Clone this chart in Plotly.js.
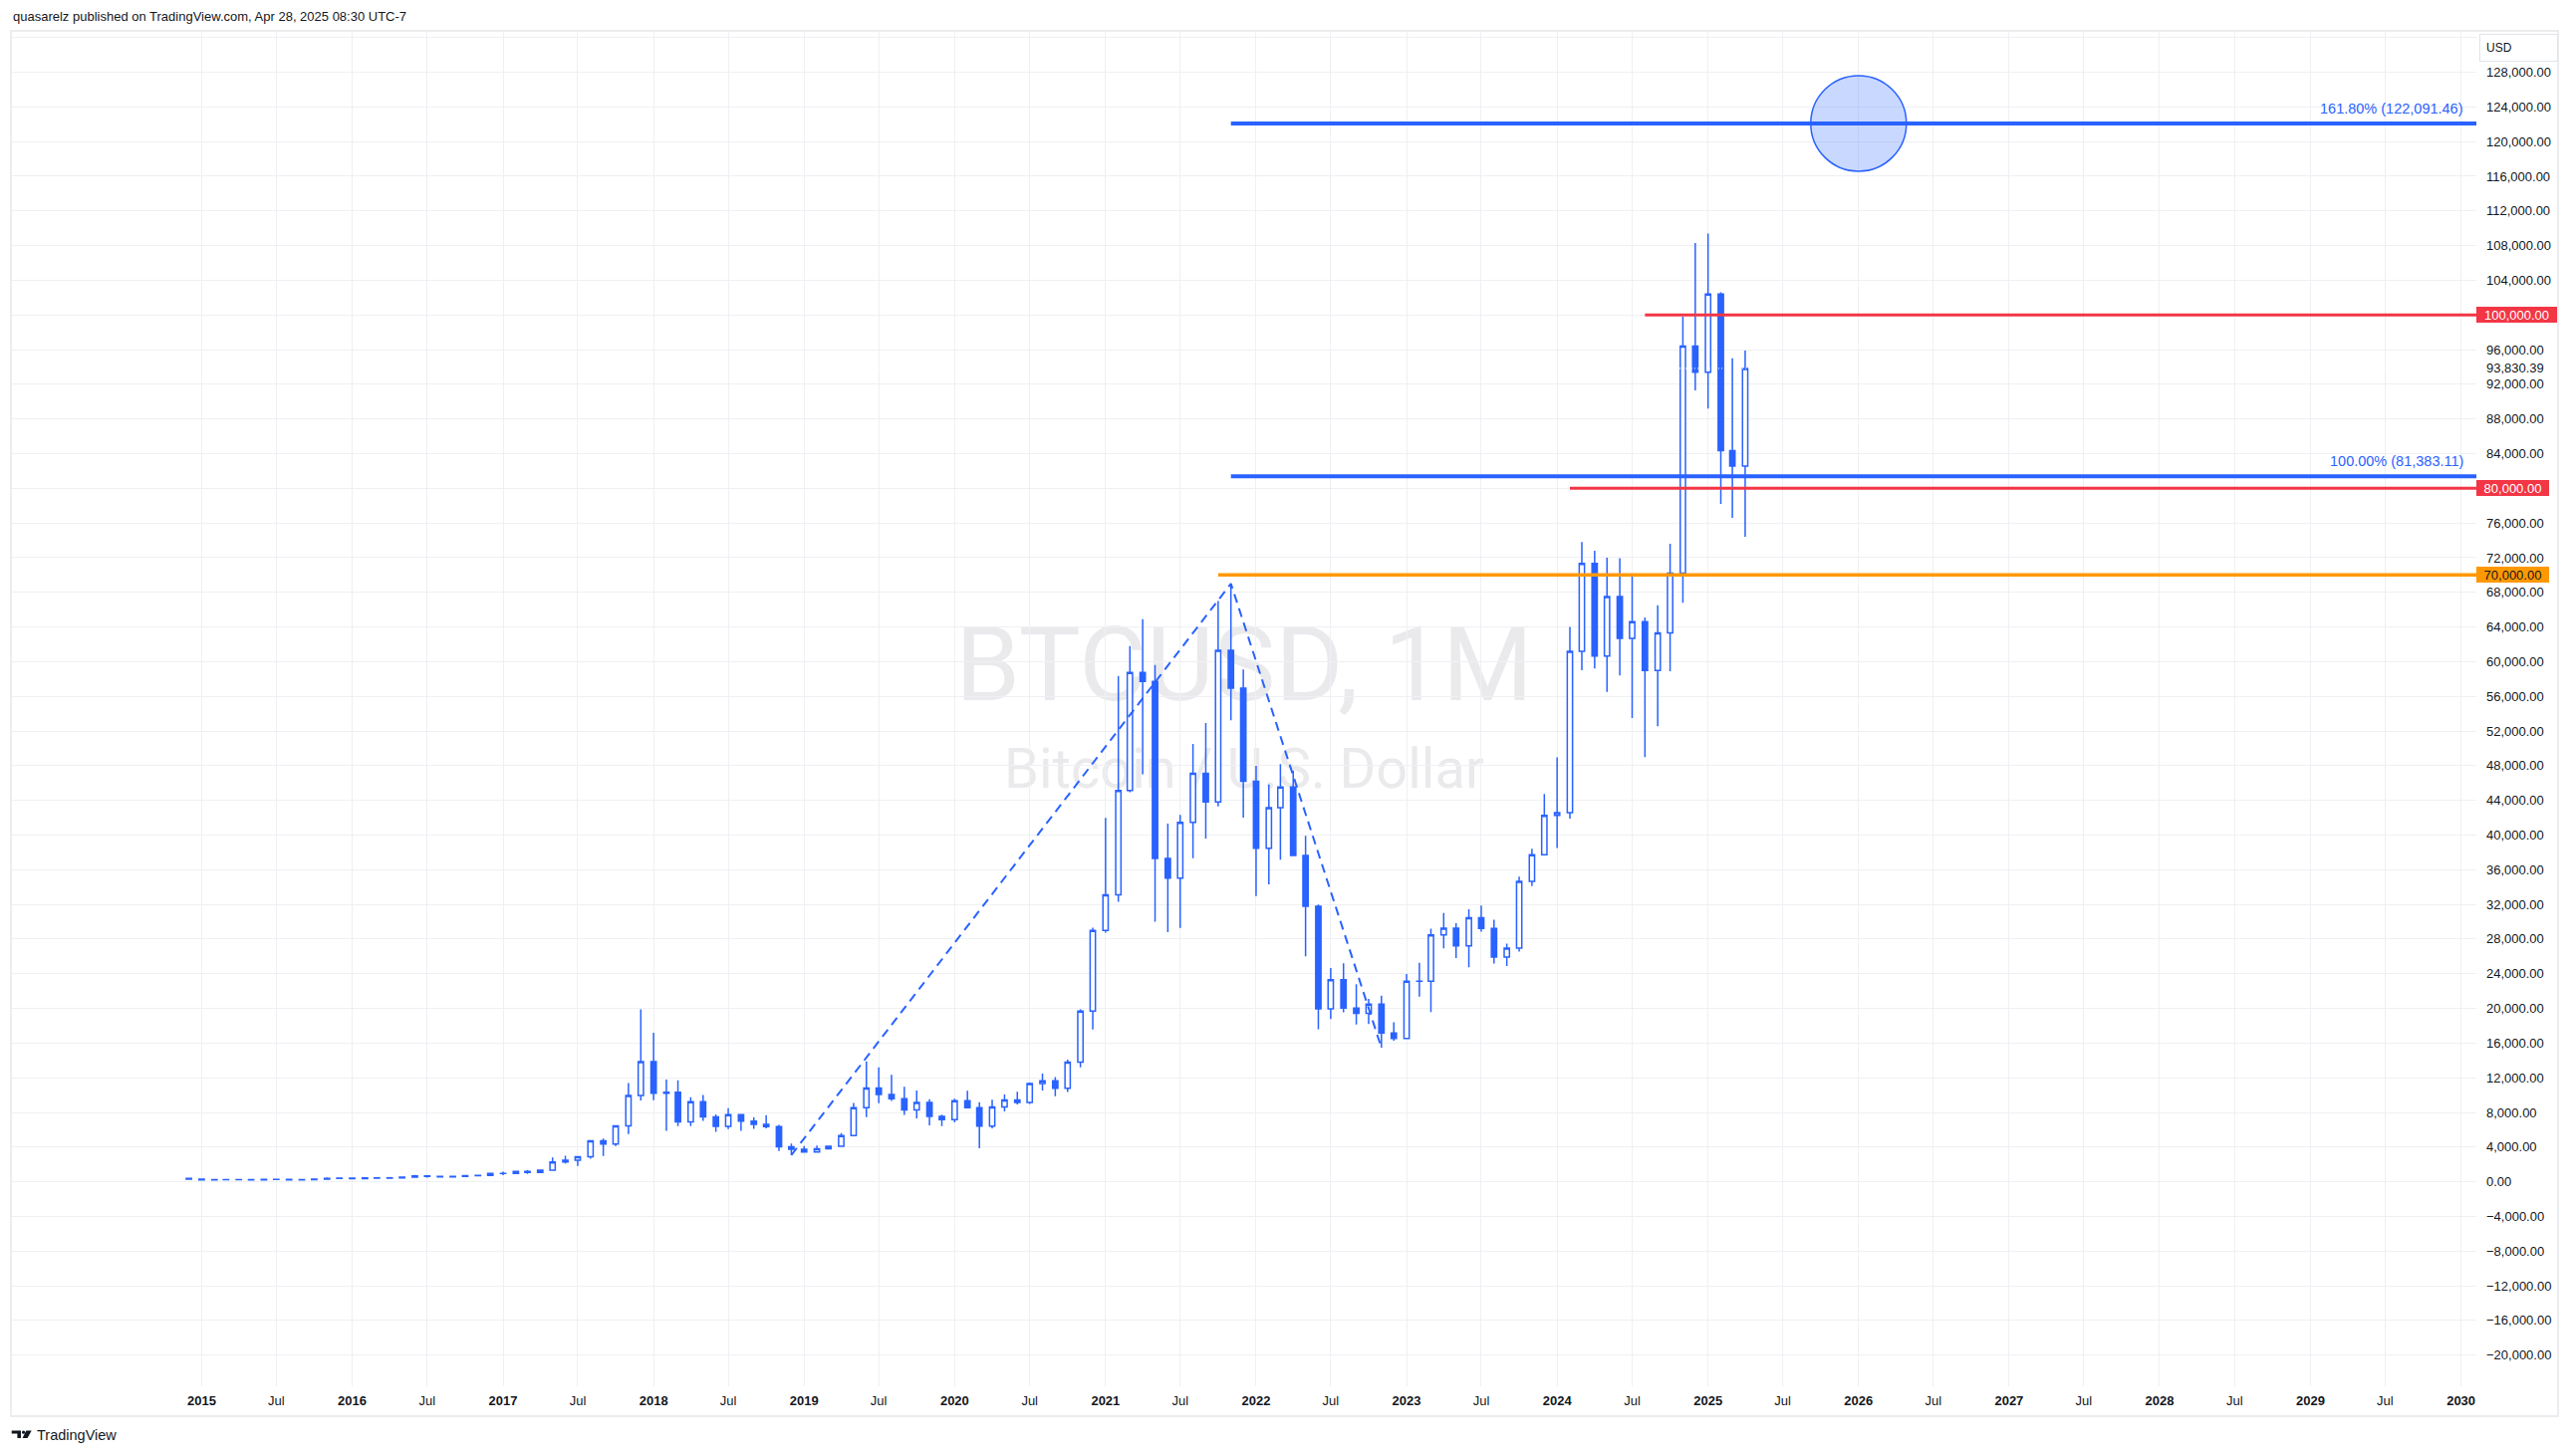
<!DOCTYPE html>
<html>
<head>
<meta charset="utf-8">
<script src="https://cdn.plot.ly/plotly-3.0.1.min.js"></script>
<style>html,body{margin:0;padding:0;background:#fff;}#chart{width:2581px;height:1462px;}</style>
</head>
<body>
<div id="chart"></div>
<script>
// ---------- DATA ----------
const months = [
  '2014-12-01',
  '2015-01-01','2015-02-01','2015-03-01','2015-04-01','2015-05-01','2015-06-01','2015-07-01','2015-08-01','2015-09-01','2015-10-01','2015-11-01','2015-12-01',
  '2016-01-01','2016-02-01','2016-03-01','2016-04-01','2016-05-01','2016-06-01','2016-07-01','2016-08-01','2016-09-01','2016-10-01','2016-11-01','2016-12-01',
  '2017-01-01','2017-02-01','2017-03-01','2017-04-01','2017-05-01','2017-06-01','2017-07-01','2017-08-01','2017-09-01','2017-10-01','2017-11-01','2017-12-01',
  '2018-01-01','2018-02-01','2018-03-01','2018-04-01','2018-05-01','2018-06-01','2018-07-01','2018-08-01','2018-09-01','2018-10-01','2018-11-01','2018-12-01',
  '2019-01-01','2019-02-01','2019-03-01','2019-04-01','2019-05-01','2019-06-01','2019-07-01','2019-08-01','2019-09-01','2019-10-01','2019-11-01','2019-12-01',
  '2020-01-01','2020-02-01','2020-03-01','2020-04-01','2020-05-01','2020-06-01','2020-07-01','2020-08-01','2020-09-01','2020-10-01','2020-11-01','2020-12-01',
  '2021-01-01','2021-02-01','2021-03-01','2021-04-01','2021-05-01','2021-06-01','2021-07-01','2021-08-01','2021-09-01','2021-10-01','2021-11-01','2021-12-01',
  '2022-01-01','2022-02-01','2022-03-01','2022-04-01','2022-05-01','2022-06-01','2022-07-01','2022-08-01','2022-09-01','2022-10-01','2022-11-01','2022-12-01',
  '2023-01-01','2023-02-01','2023-03-01','2023-04-01','2023-05-01','2023-06-01','2023-07-01','2023-08-01','2023-09-01','2023-10-01','2023-11-01','2023-12-01',
  '2024-01-01','2024-02-01','2024-03-01','2024-04-01','2024-05-01','2024-06-01','2024-07-01','2024-08-01','2024-09-01','2024-10-01','2024-11-01','2024-12-01',
  '2025-01-01','2025-02-01','2025-03-01','2025-04-01'
];
const openVals = [
  378,
  318,217,254,244,236,230,264,284,230,236,314,377,
  430,369,437,416,448,531,673,624,574,609,701,745,
  964,970,1190,1080,1348,2300,2500,2875,4735,4340,6450,9950,
  13860,10220,10320,6920,9240,7490,6390,7730,7010,6630,6370,4040,
  3740,3440,3820,4100,5320,8560,10820,10080,9590,8290,9150,7550,
  7170,9350,8540,6410,8630,9450,9140,11340,11650,10780,13800,19700,
  28990,33110,45140,58740,57720,37300,35040,41460,47130,43820,61300,56950,
  46210,38470,43160,45530,37640,31790,19940,23300,20050,19420,20490,17160,
  16540,23130,23150,28470,29250,27220,30470,29230,25930,26970,34650,37720,
  42280,42580,61180,71330,60650,67520,62700,64620,58970,63330,70220,96400,
  93400,102400,84350,82550
];
const highVals = [
  378,
  320,265,300,262,248,268,315,285,245,334,495,465,
  462,448,440,468,550,780,704,625,630,720,755,975,
  1153,1210,1350,1360,2790,3000,2930,4750,4975,6470,11400,19891,
  17180,11790,11700,9760,10000,7770,8500,7760,7420,7680,6560,4410,
  4110,4190,4140,5630,9090,13880,13200,12330,10950,10530,9510,7750,
  9580,10500,9190,9470,10080,10390,11450,12480,12070,14100,19890,29300,
  41980,58350,61790,64900,59600,41330,42320,50500,52920,67000,69000,59100,
  47990,45820,48190,47440,39900,31990,24670,25200,22800,21090,21480,18390,
  23960,25250,29190,31000,29840,31440,31860,30230,27480,35200,38430,44740,
  48970,64000,73800,72800,71980,71950,70000,65100,66500,73600,99800,108300,
  109400,102600,95000,95900
];
const lowVals = [
  310,
  160,212,236,213,228,217,253,162,226,236,305,350,
  350,365,396,412,435,527,470,530,566,603,685,740,
  752,918,900,1075,1348,2100,1830,2670,2970,4110,5500,9380,
  9400,5870,6430,6430,7030,5750,6080,5880,6100,6150,3550,3077,
  3350,3380,3730,4090,5320,7450,9070,9330,7720,7300,6510,6430,
  6850,8450,3860,6150,8110,8910,8990,10520,9880,10370,13200,17580,
  28730,32300,44950,47000,30000,28800,29280,37330,39600,43290,53250,42000,
  32950,34320,37160,37580,26000,17590,18780,19540,18150,18200,15460,16260,
  16500,21350,19570,26940,25800,24760,28860,25170,24900,26560,34100,37630,
  38500,41880,59000,59200,56500,58400,53500,49000,52550,58900,66800,91300,
  89200,78200,76600,74400
];
const closeVals = [
  318,
  217,254,244,236,230,264,284,230,236,314,377,430,
  369,437,416,448,531,673,624,574,609,701,745,964,
  970,1190,1080,1348,2300,2500,2875,4735,4340,6450,9950,13860,
  10220,10320,6920,9240,7490,6390,7730,7010,6630,6370,4040,3740,
  3440,3820,4100,5320,8560,10820,10080,9590,8290,9150,7550,7170,
  9350,8540,6410,8630,9450,9140,11340,11650,10780,13800,19700,28990,
  33110,45140,58740,57720,37300,35040,41460,47130,43820,61300,56950,46210,
  38470,43160,45530,37640,31790,19940,23300,20050,19420,20490,17160,16540,
  23130,23150,28470,29250,27220,30470,29230,25930,26970,34650,37720,42280,
  42580,61180,71330,60650,67520,62700,64620,58970,63330,70220,96400,93400,
  102400,84350,82550,93830.39
];
const lastPrice = 93830.39;

// Trend-based fib extension: anchor points and levels
const fibPathDates  = ['2018-12-01', '2021-11-01', '2022-11-01'];
const fibPathPrices = [3077, 69000, 15460];
const fibStartDate  = '2021-11-01';
const fibPrices     = [81383.11, 122091.46];
const fibLabels     = ['100.00% (81,383.11)', '161.80% (122,091.46)'];
const targetDate    = '2026-01-01';
const targetPrice   = 122091.46;

// Horizontal levels
const levelPrices = [100000, 80000, 70000];
const levelStarts = ['2024-08-01', '2024-02-01', '2021-10-01'];
const levelLabels = ['100,000.00', '80,000.00', '70,000.00'];

// Axis tick labels
const timeTickVals = ['2015-01-01','2015-07-01','2016-01-01','2016-07-01','2017-01-01','2017-07-01','2018-01-01','2018-07-01',
  '2019-01-01','2019-07-01','2020-01-01','2020-07-01','2021-01-01','2021-07-01','2022-01-01','2022-07-01',
  '2023-01-01','2023-07-01','2024-01-01','2024-07-01','2025-01-01','2025-07-01','2026-01-01','2026-07-01',
  '2027-01-01','2027-07-01','2028-01-01','2028-07-01','2029-01-01','2029-07-01','2030-01-01'];
const timeTickText = ['2015','Jul','2016','Jul','2017','Jul','2018','Jul','2019','Jul','2020','Jul','2021','Jul','2022','Jul',
  '2023','Jul','2024','Jul','2025','Jul','2026','Jul','2027','Jul','2028','Jul','2029','Jul','2030'];
const priceTickVals = [-20000,-16000,-12000,-8000,-4000,0,4000,8000,12000,16000,20000,24000,28000,32000,36000,40000,
  44000,48000,52000,56000,60000,64000,68000,72000,76000,84000,88000,92000,93830.39,96000,104000,108000,112000,
  116000,120000,124000,128000];

// ---------- STYLE ----------
const BLUE = '#2962FF', RED = '#F23645', ORANGE = '#FF9800', INK = '#131722', GRID = '#eef0f3';
const W = 2581, H = 1462, ML = 12, MR = 95, MT = 31, MB = 70;
const PW = W - ML - MR, PH = H - MT - MB;
const px = x => (x - ML) / PW;
const py = y => (H - MB - y) / PH;
const xRange = ['2013-09-28', '2030-02-07 05:00'];
const yRange = [-23592, 132768];
const FONT = 'Liberation Sans, Arial, sans-serif';

const fmt = v => (v < 0 ? '\u2212' : '') + Math.abs(v).toLocaleString('en-US', {minimumFractionDigits: 2, maximumFractionDigits: 2});

const traces = [
  {
    type: 'candlestick', x: months, open: openVals, high: highVals, low: lowVals, close: closeVals,
    increasing: {line: {color: BLUE, width: 1.5}, fillcolor: '#ffffff'},
    decreasing: {line: {color: BLUE, width: 1.5}, fillcolor: BLUE},
    whiskerwidth: 0, hoverinfo: 'skip', showlegend: false
  },
  {
    type: 'scatter', x: fibPathDates, y: fibPathPrices, mode: 'lines',
    line: {color: BLUE, width: 2, dash: '9px,6px'}, hoverinfo: 'skip', showlegend: false
  },
  {
    type: 'scatter', x: months, y: closeVals, yaxis: 'y2', mode: 'lines',
    line: {width: 0, color: 'rgba(0,0,0,0)'}, hoverinfo: 'skip', showlegend: false
  }
];

const shapes = [];
// watermark
shapes.push({type: 'rect', xref: 'x domain', yref: 'y domain', x0: 0, x1: 1, y0: py(659) - 0.05, y1: py(659) + 0.05,
  layer: 'below', line: {width: 0}, fillcolor: 'rgba(0,0,0,0)',
  label: {text: 'BTCUSD, 1M', textposition: 'middle center', font: {family: 'Roboto', size: 104, color: '#eaeaed'}}});
shapes.push({type: 'rect', xref: 'x domain', yref: 'y domain', x0: 0, x1: 1, y0: py(768) - 0.03, y1: py(768) + 0.03,
  layer: 'below', line: {width: 0}, fillcolor: 'rgba(0,0,0,0)',
  label: {text: 'Bitcoin / U.S. Dollar', textposition: 'middle center', font: {family: 'Roboto', size: 56, color: '#eaeaed'}}});
// frame
shapes.push({type: 'rect', xref: 'paper', yref: 'paper', x0: px(11), x1: px(2568), y0: py(1422), y1: py(31),
  line: {color: '#ebecef', width: 2}, fillcolor: 'rgba(0,0,0,0)', layer: 'above'});
// horizontal levels
levelPrices.forEach((p, i) => {
  shapes.push({type: 'line', xref: 'x', yref: 'y', x0: levelStarts[i], x1: xRange[1], y0: p, y1: p,
    line: {color: i < 2 ? RED : ORANGE, width: i < 2 ? 3 : 3.5}});
});
// fib lines
fibPrices.forEach(p => {
  shapes.push({type: 'line', xref: 'x', yref: 'y', x0: fibStartDate, x1: xRange[1], y0: p, y1: p,
    line: {color: BLUE, width: 4}});
});
// last price dotted line
shapes.push({type: 'line', xref: 'x', yref: 'y', x0: xRange[0], x1: xRange[1], y0: lastPrice, y1: lastPrice,
  line: {color: '#ffffff', width: 1, dash: '1px,2px'}});
// target circle
shapes.push({type: 'circle', xref: 'x', yref: 'y', xsizemode: 'pixel', ysizemode: 'pixel',
  xanchor: targetDate, yanchor: targetPrice, x0: -48, x1: 48, y0: -48, y1: 48,
  fillcolor: 'rgba(41,98,255,0.25)', line: {color: BLUE, width: 1.5}});
// TradingView logo
const P = (x, y) => px(x).toFixed(6) + ',' + py(y).toFixed(6);
shapes.push({type: 'path', xref: 'paper', yref: 'paper',
  path: 'M' + P(11.7, 1436.5) + 'L' + P(21, 1436.5) + 'L' + P(21, 1444) + 'L' + P(17.4, 1444) + 'L' + P(17.4, 1439.6) + 'L' + P(11.7, 1439.6) + 'Z',
  fillcolor: INK, line: {width: 0}});
shapes.push({type: 'circle', xref: 'paper', yref: 'paper', x0: px(22), x1: px(25.2), y0: py(1439.8), y1: py(1436.6),
  fillcolor: INK, line: {width: 0}});
shapes.push({type: 'path', xref: 'paper', yref: 'paper',
  path: 'M' + P(26.3, 1436.5) + 'L' + P(31.7, 1436.5) + 'L' + P(27.6, 1444) + 'L' + P(22.6, 1444) + 'Z',
  fillcolor: INK, line: {width: 0}});

const annotations = [];
annotations.push({xref: 'paper', yref: 'paper', x: px(10.5), y: py(17), xanchor: 'left', yanchor: 'middle',
  text: 'quasarelz published on TradingView.com, Apr 28, 2025 08:30 UTC-7', showarrow: false,
  font: {family: FONT, size: 13, color: INK}});
annotations.push({xref: 'paper', yref: 'paper', x: px(34.5), y: py(1440.5), xanchor: 'left', yanchor: 'middle',
  text: 'TradingView', showarrow: false, font: {family: FONT, size: 14.5, color: INK}});
annotations.push({xref: 'paper', yref: 'paper', x: px(2489), y: py(34), xanchor: 'left', yanchor: 'top',
  text: 'USD', showarrow: false, align: 'left', width: 65, height: 14, borderpad: 6, borderwidth: 1,
  bordercolor: '#e0e3eb', bgcolor: '#ffffff', font: {family: FONT, size: 12, color: INK}});
fibPrices.forEach((p, i) => {
  annotations.push({xref: 'paper', yref: 'y', x: 1, y: p, xanchor: 'right', yanchor: 'bottom', xshift: -11, yshift: 5,
    text: fibLabels[i], showarrow: false, font: {family: FONT, size: 14.5, color: BLUE}});
});
levelPrices.forEach((p, i) => {
  annotations.push({xref: 'paper', yref: 'y', x: 1, y: p, xanchor: 'left', yanchor: 'middle',
    text: levelLabels[i], showarrow: false, align: 'center', width: i === 0 ? 81 : 73, height: 16,
    borderpad: 0, borderwidth: 0, bgcolor: i < 2 ? RED : ORANGE,
    font: {family: FONT, size: 13, color: i < 2 ? '#ffffff' : INK}});
});

const layout = {
  width: W, height: H,
  margin: {l: ML, r: MR, t: MT, b: MB, pad: 0},
  paper_bgcolor: '#ffffff', plot_bgcolor: '#ffffff',
  showlegend: false, hovermode: false, dragmode: false,
  boxgap: 0.35,
  xaxis: {
    type: 'date', range: xRange, autorange: false,
    tickmode: 'array', tickvals: timeTickVals,
    ticktext: timeTickText.map(t => /^\d{4}$/.test(t) ? '<b>' + t + '</b>' : t),
    showgrid: true, gridcolor: GRID, gridwidth: 1, zeroline: false, showline: false,
    ticks: '', ticklabelstandoff: 5,
    tickfont: {family: FONT, size: 13, color: INK},
    rangeslider: {visible: false}, fixedrange: true
  },
  yaxis: {
    range: yRange, autorange: false, side: 'right',
    tickmode: 'linear', tick0: 0, dtick: 4000,
    showgrid: true, gridcolor: GRID, gridwidth: 1, zeroline: false, showline: false,
    showticklabels: false, ticks: '', fixedrange: true
  },
  yaxis2: {
    overlaying: 'y', side: 'right', range: yRange, autorange: false,
    tickmode: 'array', tickvals: priceTickVals, ticktext: priceTickVals.map(fmt),
    showgrid: false, zeroline: false, showline: false, ticks: '', ticklabelstandoff: 9,
    tickfont: {family: FONT, size: 13, color: INK}, fixedrange: true
  },
  shapes: shapes,
  annotations: annotations
};

Plotly.newPlot('chart', traces, layout, {staticPlot: true, displayModeBar: false});
</script>
</body>
</html>
